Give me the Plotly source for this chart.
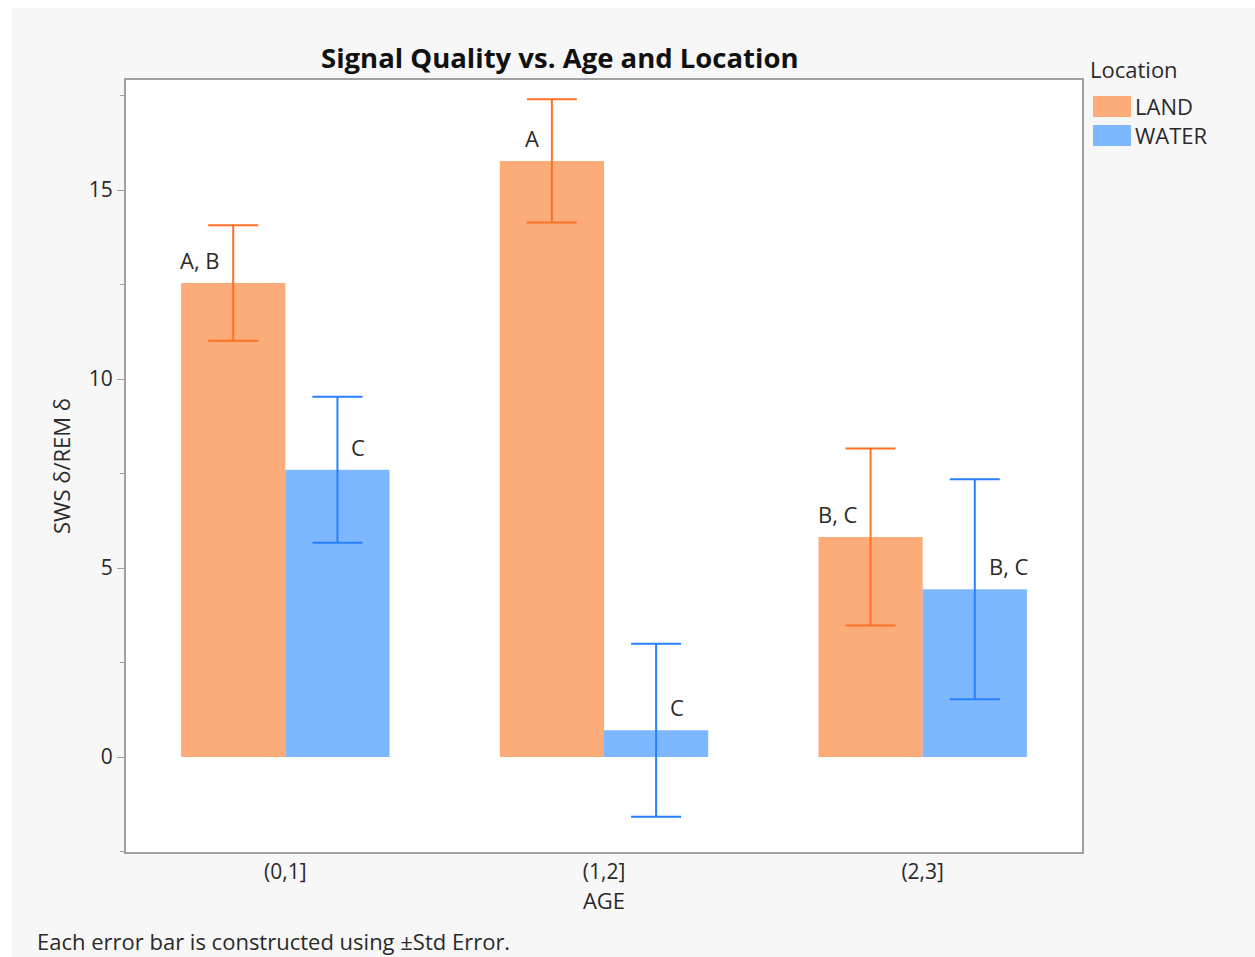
import plotly.graph_objects as go

ages = ["(0,1]", "(1,2]", "(2,3]"]
land_mean = [12.54, 15.77, 5.82]
land_se = [1.53, 1.63, 2.34]
water_mean = [7.60, 0.71, 4.44]
water_se = [1.93, 2.29, 2.91]
land_letters = ["A, B", "A", "B, C"]
water_letters = ["C", "C", "B, C"]

W, H = 1255, 957
L, R, T, B = 126, 1082, 80, 852
FONT = "Open Sans"
FS = 21
FL = 22
TXT = "#2a2a2a"

def px(x):
    return (x - L) / (R - L)

def py(y):
    return (B - y) / (B - T)

fig = go.Figure()
fig.add_trace(go.Bar(
    x=ages, y=land_mean, name="LAND",
    marker=dict(color="rgb(252,172,120)", line=dict(width=0)),
    error_y=dict(type="data", array=land_se, visible=True,
                 color="rgb(255,112,36)", thickness=2, width=25),
))
fig.add_trace(go.Bar(
    x=ages, y=water_mean, name="WATER",
    marker=dict(color="rgb(125,183,255)", line=dict(width=0)),
    error_y=dict(type="data", array=water_se, visible=True,
                 color="rgb(38,128,255)", thickness=2, width=25),
))

ann = []
for a, v, t in zip(ages, land_mean, land_letters):
    ann.append(dict(x=a, y=v, text=t, showarrow=False, xanchor="right",
                    yanchor="bottom", xshift=-63, yshift=6,
                    font=dict(family=FONT, size=FL, color=TXT)))
for a, v, t in zip(ages, water_mean, water_letters):
    ann.append(dict(x=a, y=v, text=t, showarrow=False, xanchor="left",
                    yanchor="bottom", xshift=64, yshift=6,
                    font=dict(family=FONT, size=FL, color=TXT)))

# title, footer, legend
ann.append(dict(xref="paper", yref="paper", x=px(560), y=py(58), text="<b>Signal Quality vs. Age and Location</b>",
                showarrow=False, xanchor="center", yanchor="middle",
                font=dict(family=FONT, size=27.5, color="#111")))
ann.append(dict(xref="paper", yref="paper", x=px(35), y=py(941), text="Each error bar is constructed using ±Std Error.",
                showarrow=False, xanchor="left", yanchor="middle",
                font=dict(family=FONT, size=FL, color=TXT)))
ann.append(dict(xref="paper", yref="paper", x=px(1088), y=py(69), text="Location",
                showarrow=False, xanchor="left", yanchor="middle",
                font=dict(family=FONT, size=FL, color=TXT)))
ann.append(dict(xref="paper", yref="paper", x=px(1133), y=py(106), text="LAND",
                showarrow=False, xanchor="left", yanchor="middle",
                font=dict(family=FONT, size=FL, color=TXT)))
ann.append(dict(xref="paper", yref="paper", x=px(1133), y=py(135), text="WATER",
                showarrow=False, xanchor="left", yanchor="middle",
                font=dict(family=FONT, size=FL, color=TXT)))

shapes = [
    dict(type="rect", xref="paper", yref="paper", x0=px(1093), x1=px(1131), y0=py(117), y1=py(96),
         fillcolor="rgb(252,172,120)", line=dict(width=0)),
    dict(type="rect", xref="paper", yref="paper", x0=px(1093), x1=px(1131), y0=py(146), y1=py(125),
         fillcolor="rgb(125,183,255)", line=dict(width=0)),
    # white outer strips
    dict(type="rect", xref="paper", yref="paper", x0=px(0), x1=px(W), y0=py(8), y1=py(0),
         fillcolor="white", line=dict(width=0), layer="below"),
    dict(type="rect", xref="paper", yref="paper", x0=px(0), x1=px(12), y0=py(H), y1=py(0),
         fillcolor="white", line=dict(width=0), layer="below"),
]

fig.update_layout(
    width=W, height=H,
    margin=dict(l=L, r=W - R, t=T, b=H - B, autoexpand=False),
    paper_bgcolor="#f7f7f7", plot_bgcolor="white",
    barmode="group", bargap=0.346, bargroupgap=0,
    showlegend=False,
    annotations=ann, shapes=shapes,
    font=dict(family=FONT, size=FS, color=TXT),
    xaxis=dict(
        range=[-0.5, 2.5], showline=True, linecolor="#a0a0a0", linewidth=2, mirror=True,
        ticks="", showgrid=False, zeroline=False,
        tickfont=dict(family=FONT, size=FS, color=TXT),
        title=dict(text="AGE", font=dict(family=FONT, size=FL, color=TXT), standoff=6),
    ),
    yaxis=dict(
        range=[-2.51, 17.91], showline=True, linecolor="#a0a0a0", linewidth=2, mirror=True,
        ticks="outside", ticklen=7, tickcolor="#a0a0a0", tickwidth=1,
        tickvals=[0, 5, 10, 15], showgrid=False, zeroline=False,
        minor=dict(tickvals=[-2.5, 2.5, 7.5, 12.5, 17.5], ticks="outside", ticklen=4, tickcolor="#a0a0a0"),
        tickfont=dict(family=FONT, size=FS, color=TXT),
        title=dict(text="SWS δ/REM δ", font=dict(family=FONT, size=FL, color=TXT), standoff=12),
    ),
)

fig.write_html("out.html", config={"displayModeBar": False},
               post_script="document.body.style.margin='0';")
